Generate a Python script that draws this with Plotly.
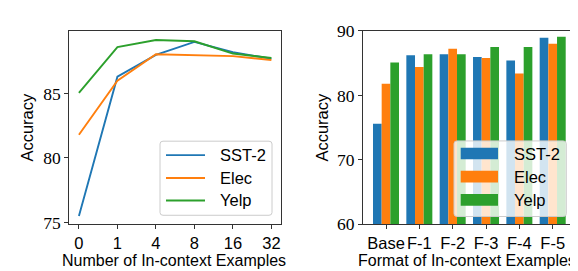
import plotly.graph_objects as go

# ---- data ----
shots = ["0", "1", "4", "8", "16", "32"]
sst2_line = [75.5, 86.3, 88.0, 89.0, 88.2, 87.7]
elec_line = [81.8, 86.0, 88.05, 87.95, 87.9, 87.6]
yelp_line = [85.05, 88.6, 89.15, 89.05, 88.1, 87.75]

formats = ["Base", "F-1", "F-2", "F-3", "F-4", "F-5"]
sst2_bar = [75.6, 86.25, 86.4, 85.95, 85.4, 88.95]
elec_bar = [81.8, 84.4, 87.25, 85.8, 83.4, 88.0]
yelp_bar = [85.1, 86.4, 86.4, 87.5, 87.5, 89.1]

series_names = ["SST-2", "Elec", "Yelp"]
colors = ["#1f77b4", "#ff7f0e", "#2ca02c"]

W, H = 578, 271
def px(x):
    return x / W
def py(y):
    return 1 - y / H

SANS = "Liberation Sans"
SERIF = "Liberation Serif"
AX = "#333333"
FS = 16.5

fig = go.Figure()

for name, vals, c in zip(series_names, [sst2_line, elec_line, yelp_line], colors):
    fig.add_trace(go.Scatter(x=shots, y=vals, mode="lines", name=name,
                             line=dict(color=c, width=1.9), xaxis="x", yaxis="y",
                             showlegend=False))

for name, vals, c in zip(series_names, [sst2_bar, elec_bar, yelp_bar], colors):
    fig.add_trace(go.Bar(x=formats, y=vals, name=name, marker=dict(color=c, line=dict(width=0)),
                         xaxis="x2", yaxis="y2", showlegend=False))

# axes geometry (pixels)
L1, R1, T, B = 61.3, 273.0, 14.0, 222.7
L2, R2 = 355.0, 567.7

axis_common = dict(showline=True, mirror=True, linecolor=AX, linewidth=1,
                   ticks="outside", ticklen=4, tickwidth=1, tickcolor=AX,
                   showgrid=False, zeroline=False)

fig.update_layout(
    width=W, height=H,
    margin=dict(l=0, r=0, t=0, b=0),
    paper_bgcolor="white", plot_bgcolor="white",
    barmode="group", bargap=0.22, bargroupgap=0,
    xaxis=dict(domain=[px(L1), px(R1)], anchor="y", type="category",
               range=[-0.25, 5.25], tickfont=dict(family=SANS, size=FS, color="black"),
               **axis_common),
    yaxis=dict(domain=[py(B), py(T)], anchor="x", range=[74.86, 89.85],
               tickvals=[75, 80, 85], tickfont=dict(family=SERIF, size=17.5, color="black"),
               **axis_common),
    xaxis2=dict(domain=[px(L2), px(R2)], anchor="y2", type="category",
                range=[-0.69, 5.69], tickfont=dict(family=SANS, size=FS, color="black"),
                **axis_common),
    yaxis2=dict(domain=[py(B), py(T)], anchor="x2", range=[60, 90],
                tickvals=[60, 70, 80, 90], tickfont=dict(family=SERIF, size=17.5, color="black"),
                **axis_common),
)

ann = []
def text(x, y, s, size=FS, angle=0, xanchor="center"):
    ann.append(dict(x=px(x), y=py(y), xref="paper", yref="paper", text=s, showarrow=False,
                    font=dict(family=SANS, size=size, color="black"), textangle=angle,
                    xanchor=xanchor, yanchor="middle"))

# axis titles
text(19, 118.3, "Accuracy", angle=-90)
text(314, 118.3, "Accuracy", angle=-90)
text(166, 262, "Number of In-context Examples", size=16)
text(459, 262, "Format of In-context Examples", size=16)

shapes = []
def legend_box(x0, y0, x1, y1, r=3):
    path = (f"M {px(x0+r)},{py(y0)} L {px(x1-r)},{py(y0)} Q {px(x1)},{py(y0)} {px(x1)},{py(y0+r)} "
            f"L {px(x1)},{py(y1-r)} Q {px(x1)},{py(y1)} {px(x1-r)},{py(y1)} "
            f"L {px(x0+r)},{py(y1)} Q {px(x0)},{py(y1)} {px(x0)},{py(y1-r)} "
            f"L {px(x0)},{py(y0+r)} Q {px(x0)},{py(y0)} {px(x0+r)},{py(y0)} Z")
    shapes.append(dict(type="path", path=path, xref="paper", yref="paper",
                       fillcolor="rgba(255,255,255,0.8)", line=dict(color="#cccccc", width=1),
                       layer="above"))

# left legend (lines)
legend_box(152, 133, 264, 213)
ys = [148, 172.7, 197]
for name, c, yy in zip(series_names, colors, ys):
    shapes.append(dict(type="line", x0=px(158), x1=px(197), y0=py(yy), y1=py(yy),
                       xref="paper", yref="paper", line=dict(color=c, width=1.9), layer="above"))
    text(210, yy, name, xanchor="left")

# right legend (bars)
legend_box(446, 132.7, 558.3, 214.3)
ys2 = [146.3, 171.2, 196.3]
for name, c, yy in zip(series_names, colors, ys2):
    shapes.append(dict(type="rect", x0=px(452.7), x1=px(490), y0=py(yy - 6.3), y1=py(yy + 6.3),
                       xref="paper", yref="paper", fillcolor=c, line=dict(width=0), layer="above"))
    text(504, yy, name, xanchor="left")

fig.update_layout(annotations=ann, shapes=shapes)
fig.write_html("out.html")
